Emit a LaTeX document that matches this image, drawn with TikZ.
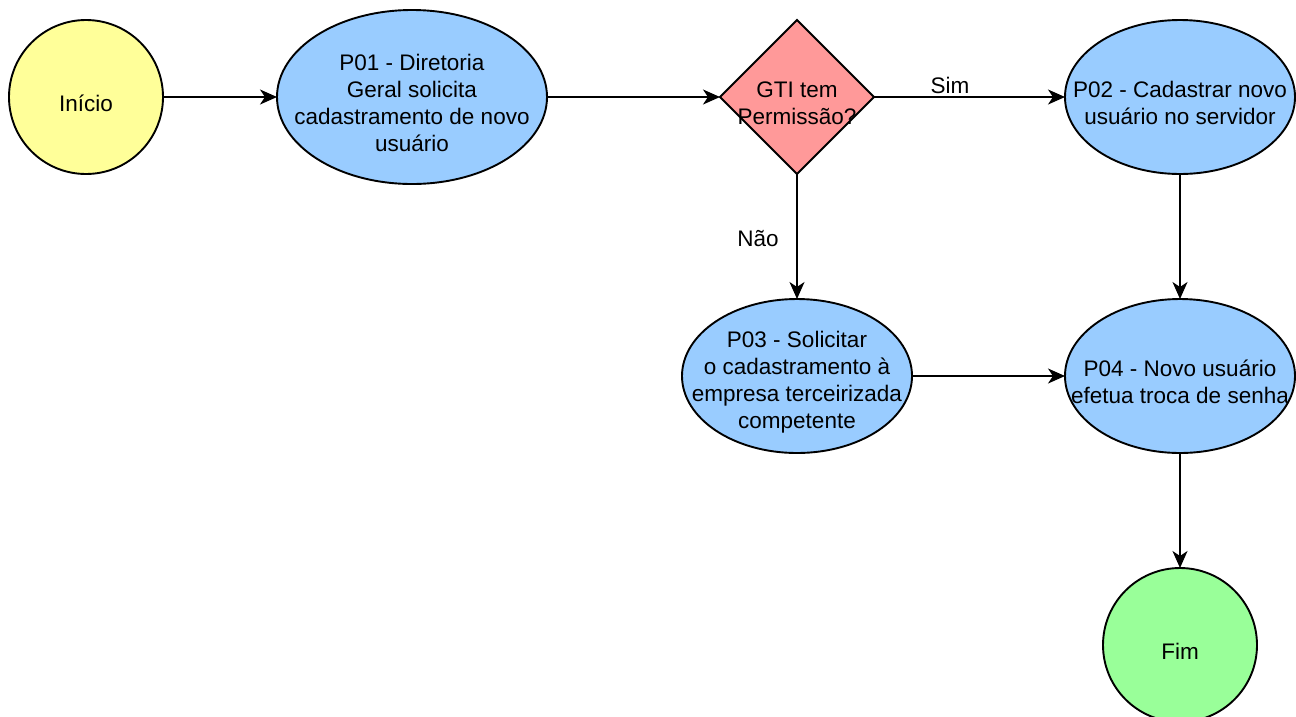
\documentclass[tikz,border=0pt]{standalone}
\usepackage{fontspec}
\setmainfont{Liberation Sans}
\usetikzlibrary{shapes.geometric,arrows.meta}
\definecolor{cyellow}{HTML}{FFFF99}
\definecolor{cblue}{HTML}{99CCFF}
\definecolor{cred}{HTML}{FF9999}
\definecolor{cgreen}{HTML}{99FF99}
\begin{document}
\begin{tikzpicture}[x=1pt,y=-1pt,
  base/.style={draw=black,line width=1.9pt,inner sep=0pt,outer sep=0pt},
  circ/.style={base,circle,minimum size=154pt},
  ell/.style={base,ellipse,minimum width=230pt,minimum height=154pt,fill=cblue},
  dia/.style={base,diamond,minimum width=154pt,minimum height=154pt,fill=cred},
  txt/.style={font=\fontsize{22.5}{27}\selectfont,align=center,inner sep=0pt},
  arr/.style={line width=1.9pt,-{Stealth[length=17pt,width=15pt,inset=5pt]}},
  lbl/.style={font=\fontsize{22.5}{27}\selectfont,inner sep=0pt}]
\useasboundingbox (0,0) rectangle (1296,716);
\node[circ,fill=cyellow] (ini) at (86,97) {};
\node[txt] at (86,103) {Início};
\node[ell,minimum width=270pt,minimum height=174pt] (p01) at (412,97) {};
\node[txt] at (412,103) {P01 - Diretoria\\Geral solicita\\cadastramento de novo\\usuário};
\node[dia] (gti) at (797,97) {};
\node[txt] at (797,103) {GTI tem\\Permissão?};
\node[ell] (p02) at (1180,97) {};
\node[txt] at (1180,103) {P02 - Cadastrar novo\\usuário no servidor};
\node[ell] (p03) at (797,376) {};
\node[txt] at (797,382) {P03 - Solicitar\\o cadastramento à\\empresa terceirizada\\competente};
\node[ell] (p04) at (1180,376) {};
\node[txt] at (1180,382) {P04 - Novo usuário\\efetua troca de senha};
\node[circ,fill=cgreen] (fim) at (1180,645) {};
\node[txt] at (1180,651) {Fim};
\draw[arr] (ini.east) -- (p01.west);
\draw[arr] (p01.east) -- (gti.west);
\draw[arr] (gti.east) -- (p02.west);
\node[lbl] (sim) at (950,85) {Sim};
\draw[arr] (gti.south) -- (p03.north);
\node[lbl] (nao) at (758,239) {Não};
\draw[arr] (p02.south) -- (p04.north);
\draw[arr] (p03.east) -- (p04.west);
\draw[arr] (p04.south) -- (fim.north);
\end{tikzpicture}
\end{document}
